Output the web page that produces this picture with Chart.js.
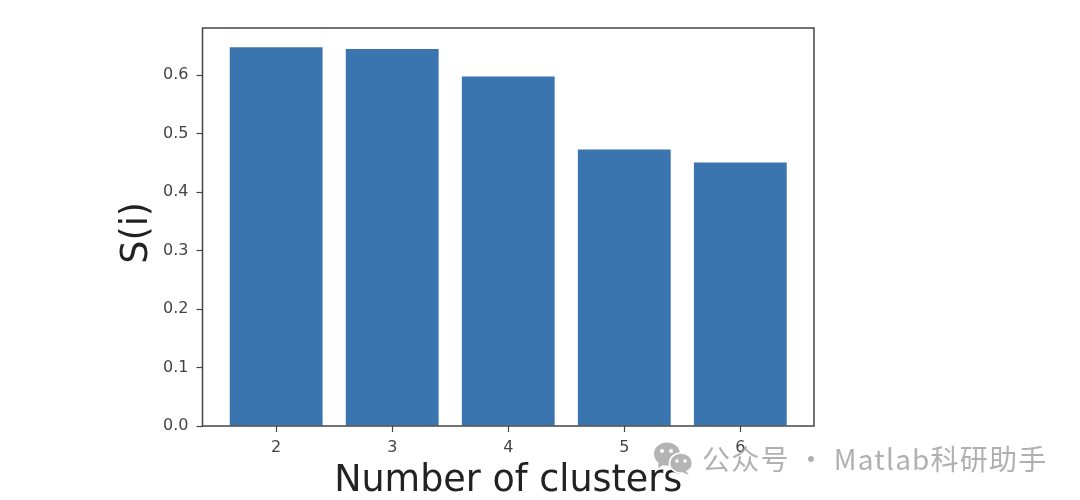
<!DOCTYPE html>
<html>
<head>
<meta charset="utf-8">
<script src="https://cdn.jsdelivr.net/npm/chart.js@4/dist/chart.umd.min.js"></script>
<style>
html, body { margin: 0; padding: 0; background: #fff; overflow: hidden; }
#wrap { position: relative; width: 1080px; height: 500px; }
#myChart { filter: blur(0.5px); }
#mark {
    position: absolute; left: 702px; top: 438px; white-space: nowrap;
    font-family: "Noto Sans CJK SC", sans-serif; font-size: 28px; line-height: 40px;
    letter-spacing: 1.2px; color: rgba(150,150,150,0.75);
}
#icon { position: absolute; left: 653px; top: 441px; }
</style>
</head>
<body>
<div id="wrap">
    <canvas id="myChart" width="1080" height="500"></canvas>
    <svg id="icon" width="40" height="34" viewBox="0 0 40 34">
        <ellipse cx="14" cy="13" rx="13" ry="11.5" fill="#b4b4b4"/>
        <path d="M6 20 L5 27 L12 23 Z" fill="#b4b4b4"/>
        <ellipse cx="28" cy="22" rx="11.5" ry="10" stroke="#fff" stroke-width="1.5" fill="#b4b4b4"/>
        <path d="M33 30 L36 34 L29 31 Z" fill="#b4b4b4"/>
        <circle cx="9" cy="10" r="2" fill="#fff"/>
        <circle cx="18" cy="10" r="2" fill="#fff"/>
        <circle cx="24" cy="20" r="1.7" fill="#fff"/>
        <circle cx="32" cy="20" r="1.7" fill="#fff"/>
    </svg>
    <div id="mark">公众号 · Matlab科研助手</div>
</div>
<script>
var clusters = [2, 3, 4, 5, 6];
var valores = [0.648, 0.645, 0.598, 0.473, 0.451];
var yTicks = [0, 0.1, 0.2, 0.3, 0.4, 0.5, 0.6];

Chart.defaults.font.family = '"DejaVu Sans"';
Chart.defaults.animation = false;

// marco completo del area de la grafica
var marco = {
    id: 'marco',
    afterDatasetsDraw: function (chart) {
        var a = chart.chartArea, c = chart.ctx;
        c.save();
        c.strokeStyle = '#444';
        c.lineWidth = 1.5;
        c.strokeRect(a.left, a.top, a.right - a.left, a.bottom - a.top);
        c.restore();
    }
};

var ctx = document.getElementById('myChart').getContext('2d');
var myChart = new Chart(ctx, {
    type: 'bar',
    plugins: [marco],
    data: {
        datasets: [{
            data: clusters.map(function (c, i) { return { x: c, y: valores[i] }; }),
            backgroundColor: '#3a75af',
            categoryPercentage: 1,
            barPercentage: 0.8
        }]
    },
    options: {
        responsive: false,
        layout: { padding: { top: 28, right: 266, left: 0, bottom: 0 } },
        plugins: { legend: { display: false }, tooltip: { enabled: false } },
        scales: {
            x: {
                type: 'linear',
                offset: false,
                min: 1.365,
                max: 6.635,
                afterBuildTicks: function (s) {
                    s.ticks = clusters.map(function (v) { return { value: v }; });
                },
                afterFit: function (s) { s.height = 74; },
                grid: { offset: false, drawOnChartArea: false, tickLength: 6, color: '#444', tickWidth: 1.2 },
                border: { display: false },
                ticks: { color: '#444', font: { size: 16 }, padding: 6, maxRotation: 0, autoSkip: false,
                    callback: function (v) { return String(v); } },
                title: { display: true, text: 'Number of clusters', color: '#222', font: { size: 36.5 }, padding: { top: 0, bottom: -3 } }
            },
            y: {
                min: 0,
                max: 0.681,
                afterBuildTicks: function (s) {
                    s.ticks = yTicks.map(function (v) { return { value: v }; });
                },
                afterFit: function (s) { s.width = 202.5; },
                grid: { drawOnChartArea: false, tickLength: 6, color: '#444', tickWidth: 1.2 },
                border: { display: false },
                ticks: { color: '#444', font: { size: 16 }, padding: 8,
                    callback: function (v) { return v.toFixed(1); } },
                // espacio final para bajar el titulo unos px
                title: { display: true, text: 'S(i) ', color: '#222', font: { size: 36.5 }, padding: { top: 116, bottom: 0 } }
            }
        }
    }
});
</script>
</body>
</html>
